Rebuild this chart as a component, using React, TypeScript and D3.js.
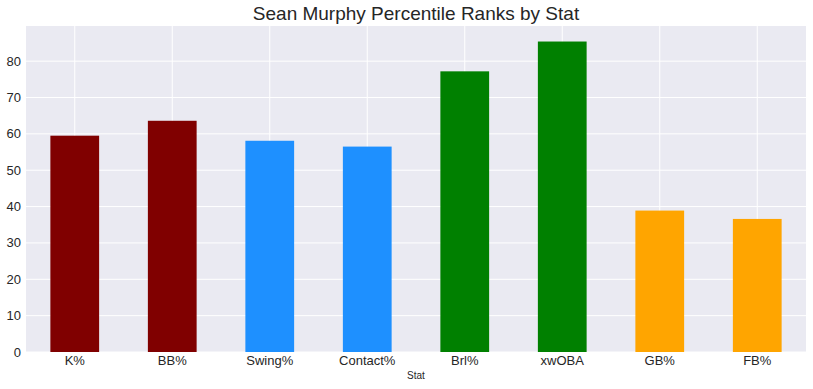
import React from "react";
import * as d3 from "d3";

const categories = ["K%", "BB%", "Swing%", "Contact%", "Brl%", "xwOBA", "GB%", "FB%"];
const values = [59.5, 63.6, 58.1, 56.5, 77.2, 85.4, 38.9, 36.6];
const colors = ["#800000", "#800000", "#1E90FF", "#1E90FF", "#008000", "#008000", "#FFA500", "#FFA500"];
const yTicks = [0, 10, 20, 30, 40, 50, 60, 70, 80];

const W = 813, H = 389;
const left = 26, right = 806, top = 26, bottom = 352;

export default function App() {
  const x = d3.scaleBand<string>().domain(categories).range([left, right]).paddingInner(0.5).paddingOuter(0.25);
  const yMax = (d3.max(values) as number) * 1.05;
  const y = d3.scaleLinear().domain([0, yMax]).range([bottom, top]);
  const font = "'Liberation Sans', Arial, sans-serif";
  return (
    <svg width={W} height={H} style={{ position: "absolute", left: 0, top: 0 }} fontFamily={font}>
      <rect x={0} y={0} width={W} height={H} fill="#fff" />
      <rect x={left} y={top} width={right - left} height={bottom - top} fill="#EAEAF2" />
      {yTicks.map((t) => (
        <line key={"gy" + t} x1={left} x2={right} y1={y(t)} y2={y(t)} stroke="#fff" strokeWidth={1} />
      ))}
      {categories.map((c) => {
        const cx = (x(c) as number) + x.bandwidth() / 2;
        return <line key={"gx" + c} x1={cx} x2={cx} y1={top} y2={bottom} stroke="#fff" strokeWidth={1} />;
      })}
      {categories.map((c, i) => (
        <rect key={"b" + c} x={x(c)} y={y(values[i])} width={x.bandwidth()} height={bottom - y(values[i])} fill={colors[i]} />
      ))}
      {yTicks.map((t) => (
        <text key={"ty" + t} x={left - 5} y={y(t)} dy="0.35em" textAnchor="end" fontSize={13} fill="#262626">{t}</text>
      ))}
      {categories.map((c) => (
        <text key={"tx" + c} x={(x(c) as number) + x.bandwidth() / 2} y={bottom + 13} textAnchor="middle" fontSize={13} fill="#262626">{c}</text>
      ))}
      <text x={(left + right) / 2} y={379} textAnchor="middle" fontSize={10} fill="#262626">Stat</text>
      <text x={(left + right) / 2} y={20} textAnchor="middle" fontSize={19} fill="#262626">Sean Murphy Percentile Ranks by Stat</text>
    </svg>
  );
}
